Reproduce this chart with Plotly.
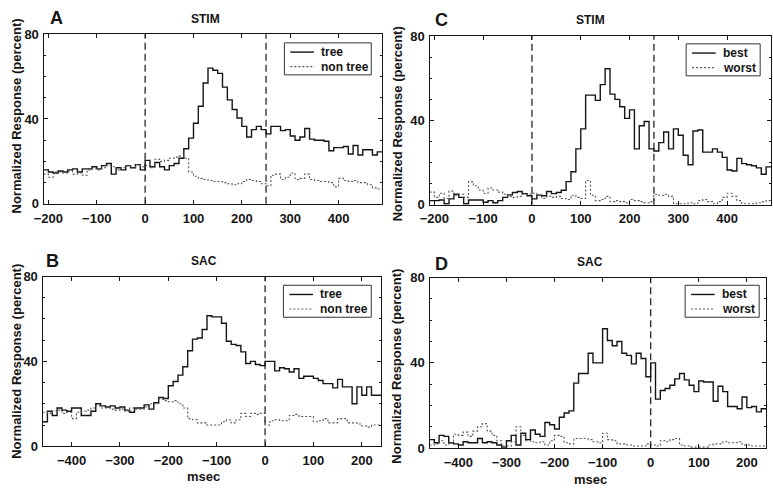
import plotly.graph_objects as go

W, H = 773, 493

# ---------------- data (normalized response, percent; 10 ms bins) ----------------
stim_bins = list(range(-210, 490, 10))   # left edges, aligned on stimulus onset
sac_bins = list(range(-460, 240, 10))    # left edges, aligned on saccade onset

A_tree = [16, 15, 14.5, 15.5, 15, 16, 16.5, 15, 16.5, 16.5,
          17.5, 16.5, 18, 19, 14, 17, 16, 18, 17, 18.5,
          16, 20.5, 17.5, 19.5, 17.5, 16, 18, 19, 21.5, 26,
          31, 38, 46, 57, 64, 63, 61.5, 55, 49, 44.5,
          40.5, 36.5, 31.5, 35, 36.5, 35, 33, 36.5, 36.5, 34.5,
          35, 32, 30, 31.5, 35.5, 30.5, 30, 30, 29.5, 25,
          26.5, 26.5, 27, 23.5, 27.5, 23, 25.5, 25.5, 23, 24.5]
A_nontree = [14, 12.5, 15, 15, 14.5, 15.5, 14, 14.5, 13.5, 16,
             16.5, 16, 17, 18, 17.5, 16, 17, 18, 17, 18.5,
             17.5, 18, 17, 21, 20, 20.5, 21.5, 22, 22.5, 21.5,
             15, 13, 12, 11.5, 11, 10.5, 10.5, 10, 9.5, 9,
             9.5, 10.5, 11.5, 11, 10.5, 9.5, 8.5, 13.5, 14, 11.5,
             12.5, 14.5, 11.5, 12, 14, 11.5, 11, 10.5, 10.5, 10,
             8, 12, 11, 10.5, 11, 10, 10, 9, 7.5, 7]

C_best = [2, 2, 2.3, 0.5, 2.8, 5, 3.5, 0.5, 2.3, 2.3,
          2.3, 1.2, 2, 1, 2, 3.5, 4.7, 5.8, 6.3, 5.3,
          4.3, 2.8, 4.6, 4.3, 6.3, 5.3, 5.8, 6.9, 11, 15.7,
          26.5, 36, 52, 52, 49.5, 57, 64.5, 52.5, 50, 46.5,
          41, 45, 26.5, 37.5, 39.5, 26.5, 25.5, 29.5, 34.5, 26.5,
          36, 33, 23.5, 19, 35, 35.5, 25, 25, 26.5, 25,
          22.5, 16.5, 16, 22, 19.5, 19, 18.5, 17.5, 14.5, 18]
C_worst = [6, 3.5, 5.5, 3, 6.5, 4.5, 5, 3.5, 11, 9,
           7, 5.5, 8, 7, 6, 5, 4, 3.5, 4, 5,
           5, 5.5, 4.5, 3, 4, 3.5, 4, 3, 2.5, 4.5,
           3.5, 3, 11.5, 4.5, 2, 2.5, 4, 1.5, 2, 1.5,
           1, 2.5, 2, 1.5, 1, 1.5, 5, 4.5, 5, 4,
           0.5, 0.5, 0.5, 1, 0.5, 2, 2.5, 1.5, 0.5, 1.5,
           3.5, 5.5, 4, 2, 0.5, 0.5, 0.5, 1, 1.5, 2]

B_tree = [11.5, 16.5, 14.5, 18, 17, 16.5, 18, 18, 14.5, 14.5,
          16.5, 20, 19, 18.5, 19, 18, 18.5, 17, 16, 18,
          18, 19.5, 17.5, 20.5, 23, 22.5, 28.5, 30.5, 33.5, 37.5,
          45, 50.5, 51, 55, 61.5, 61, 61, 58, 49.5, 48,
          47.5, 44.5, 39, 40, 38.5, 38, 40, 40, 35.5, 37,
          36.5, 35, 36.5, 32, 33, 33, 32, 31, 29.5, 29.5,
          27.5, 31.5, 28, 28, 20, 28, 24, 28, 24, 24]
B_nontree = [16, 15.5, 16.5, 17, 15.5, 16, 13, 16, 16.5, 17,
             18, 19, 18, 18, 17.5, 17, 17.5, 16.5, 18, 17.5,
             17.5, 18.5, 20, 20, 22, 21.5, 21, 21.5, 20, 18,
             13, 12.5, 11, 11, 10, 10, 10, 11.5, 12.5, 11,
             12.5, 15.5, 14, 15.5, 15, 15.5, 10, 12, 12.5, 12,
             12, 14.5, 15, 14, 14, 14, 11.5, 12, 13, 11,
             11, 13, 13, 11, 11, 10.5, 9.5, 9, 10, 10]

D_best = [4, 2.5, 6, 5.5, 2.5, 2, 1.5, 3, 2.5, 2.5,
          4.5, 2.5, 3, 2.5, 1.5, 0.5, 3.5, 6, 1.5, 7,
          4, 8.5, 6.5, 5.5, 12, 11, 9, 14.5, 16.5, 17.5,
          30.5, 35, 35, 44.5, 40, 40, 56, 50.5, 48, 50,
          44.5, 43.5, 39.5, 44.5, 42, 33.5, 40, 23, 27, 28,
          29.5, 32.5, 35, 32, 29.5, 26.5, 31.5, 31, 31, 22,
          29, 26.5, 19.5, 19.5, 18.5, 24, 19, 19.5, 17, 18.5]
D_worst = [1.5, 2, 3.5, 1.5, 2.5, 6.5, 6, 7.5, 5.5, 8,
           10, 11.5, 8, 6, 3.5, 1, 1, 3, 10, 6,
           3.5, 3, 2.5, 3, 1.5, 3.5, 6, 5.5, 2.5, 2,
           4.5, 4.5, 4.5, 4, 3, 2.5, 7, 4, 3.5, 2,
           2, 1.5, 1, 1, 1, 2, 1.5, 1, 3.5, 3,
           4, 4.5, 1.5, 1, 0.5, 0.5, 0.5, 0.5, 1.5, 2,
           2, 3, 2.5, 2.5, 3, 1.5, 1.5, 1, 1, 1]

panel_letters = ["A", "C", "B", "D"]
panel_titles = ["STIM", "STIM", "SAC", "SAC"]
legend_names = [("tree", "non tree"), ("best", "worst"), ("tree", "non tree"), ("best", "worst")]
y_title = "Normalized Response (percent)"
x_title = "msec"

# ---------------- figure ----------------
def px(x, y):
    return x / W, 1 - y / H

FONT = "Liberation Sans, Arial, sans-serif"
INK = "#151515"
DOT_COLOR = "#555555"
SOLID = dict(color=INK, width=1.4)
DOTTED = dict(color=DOT_COLOR, width=1.1, dash="2px,2px")

fig = go.Figure()

panels = [
    (stim_bins, A_tree, A_nontree),
    (stim_bins, C_best, C_worst),
    (sac_bins, B_tree, B_nontree),
    (sac_bins, D_best, D_worst),
]

for i, (bins, solid, dotted) in enumerate(panels):
    ax = "" if i == 0 else str(i + 1)
    edges = bins + [bins[-1] + (bins[1] - bins[0])]
    fig.add_trace(go.Scatter(x=edges, y=solid + [solid[-1]], mode="lines",
                             line=dict(SOLID, shape="hv"),
                             name=legend_names[i][0], xaxis="x" + ax, yaxis="y" + ax))
    fig.add_trace(go.Scatter(x=edges, y=dotted + [dotted[-1]], mode="lines",
                             line=dict(DOTTED, shape="hv"),
                             name=legend_names[i][1], xaxis="x" + ax, yaxis="y" + ax))

# plot-area rectangles in pixels: (left, top, right, bottom)
rects = [(34, 28, 377, 203), (425, 30, 771, 204), (33, 278, 376, 453), (425, 279, 766, 455)]
xranges = [[-210, 490], [-210, 490], [-460, 240], [-460, 240]]
vlines = [[0, 250], [0, 250], [0], [0]]
# legend boxes in pixels: (left, top, right, bottom)
legend_boxes = [(278, 37, 366, 70), (685, 38, 760, 71), (277, 287, 366, 320), (684, 287, 759, 320)]

layout = dict(width=W, height=H, margin=dict(l=0, r=0, t=0, b=0),
              paper_bgcolor="white", plot_bgcolor="white",
              font=dict(family=FONT, color=INK, size=12), showlegend=False)

axis_common = dict(showline=True, linecolor=INK, linewidth=1.2, mirror="allticks",
                   ticks="inside", ticklen=4, tickcolor=INK, showgrid=False, zeroline=False,
                   tickfont=dict(family=FONT, size=13, color=INK, weight="bold"))

shapes = []
annotations = []
for i, (l, t, r, b) in enumerate(rects):
    ax = "" if i == 0 else str(i + 1)
    layout["xaxis" + ax] = dict(axis_common, domain=[l / W, r / W], range=xranges[i],
                                anchor="y" + ax, dtick=100, tick0=0, ticklabelstandoff=2)
    layout["yaxis" + ax] = dict(axis_common, domain=[1 - b / H, 1 - t / H], range=[0, 80],
                                anchor="x" + ax, tickvals=[0, 40, 80], ticklabelstandoff=1,
                                minor=dict(dtick=10, ticks="inside", ticklen=2, tickcolor=INK))
    for v in vlines[i]:
        shapes.append(dict(type="line", xref="x" + ax, yref="y" + ax + " domain",
                           x0=v, x1=v, y0=0, y1=1,
                           line=dict(color=INK, width=1.2, dash="7px,4px")))
    # hand-drawn legend box
    bl, bt, br, bb = legend_boxes[i]
    x0, y0 = px(bl, bb)
    x1, y1 = px(br, bt)
    shapes.append(dict(type="rect", xref="paper", yref="paper", x0=x0, y0=y0, x1=x1, y1=y1,
                       line=dict(color="#333333", width=1), fillcolor="white", layer="above"))
    for k, style in enumerate([SOLID, DOTTED]):
        ry = bt + 9.5 + 15 * k
        sx0, sy = px(bl + 6, ry)
        sx1, _ = px(bl + 30, ry)
        shapes.append(dict(type="line", xref="paper", yref="paper", x0=sx0, x1=sx1, y0=sy, y1=sy,
                           line=style, layer="above"))
        tx, ty = px(bl + 35, ry)
        annotations.append(dict(text=legend_names[i][k], x=tx, y=ty, xref="paper", yref="paper",
                                showarrow=False, xanchor="left", yanchor="middle",
                                font=dict(family=FONT, size=12, color=INK, weight="bold")))

# panel letters, titles, axis titles
letter_pos = [(47, 11), (437, 13), (43, 262), (437, 265)]
title_pos = [(198, 12), (588, 13), (197, 262), (588, 263)]
ytitle_pos = [(7, 112), (392, 120), (7, 365), (392, 370)]
xtitle_pos = [None, None, (196, 484), (588, 487)]

for i in range(4):
    x, y = px(*letter_pos[i])
    annotations.append(dict(text=panel_letters[i], x=x, y=y, xref="paper", yref="paper",
                            showarrow=False, xanchor="center", yanchor="middle",
                            font=dict(family=FONT, size=18, color=INK, weight="bold")))
    x, y = px(*title_pos[i])
    annotations.append(dict(text=panel_titles[i], x=x, y=y, xref="paper", yref="paper",
                            showarrow=False, xanchor="center", yanchor="middle",
                            font=dict(family=FONT, size=12, color=INK, weight="bold")))
    x, y = px(*ytitle_pos[i])
    annotations.append(dict(text=y_title, x=x, y=y, xref="paper", yref="paper",
                            showarrow=False, xanchor="center", yanchor="middle", textangle=-90,
                            font=dict(family=FONT, size=13, color=INK, weight="bold")))
    if xtitle_pos[i]:
        x, y = px(*xtitle_pos[i])
        annotations.append(dict(text=x_title, x=x, y=y, xref="paper", yref="paper",
                                showarrow=False, xanchor="center", yanchor="middle",
                                font=dict(family=FONT, size=13, color=INK, weight="bold")))

layout["shapes"] = shapes
layout["annotations"] = annotations
fig.update_layout(**layout)
fig.write_html("out.html")
